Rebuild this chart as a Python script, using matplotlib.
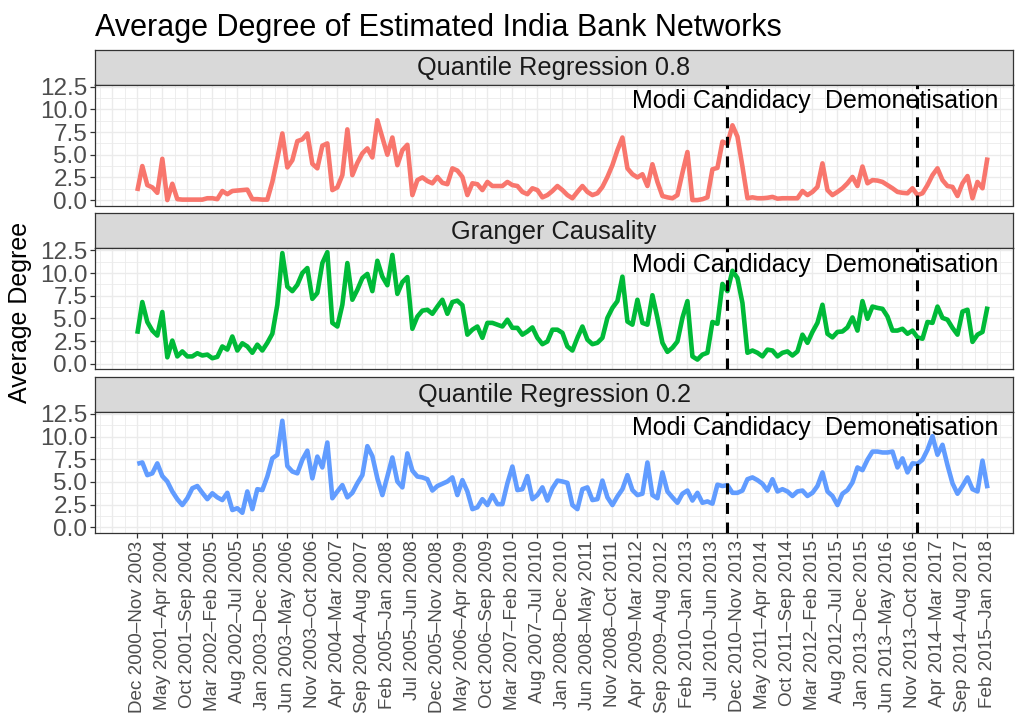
import numpy as np
import matplotlib.pyplot as plt

plt.rcParams['font.family'] = ['Liberation Sans', 'DejaVu Sans']

# average degree per rolling 36-month window (Dec 2000-Nov 2003 ... Feb 2015-Jan 2018)
qr08 = [1.0, 3.75, 1.65, 1.4, 0.8, 4.55, 0.0, 1.8, 0.1, 0.05,
        0.05, 0.05, 0.05, 0.05, 0.2, 0.2, 0.1, 1.0, 0.65, 1.0,
        1.05, 1.1, 1.15, 0.1, 0.1, 0.05, 0.05, 2.0, 4.6, 7.35,
        3.6, 4.4, 6.5, 6.7, 7.35, 4.0, 3.5, 6.0, 6.25, 1.1,
        1.4, 2.75, 7.8, 2.75, 4.1, 5.15, 5.7, 4.7, 8.8, 6.9,
        5.0, 6.9, 3.85, 5.5, 6.1, 0.55, 2.2, 2.5, 2.1, 1.85,
        2.55, 1.9, 1.75, 3.5, 3.25, 2.55, 0.55, 1.85, 1.75, 1.1,
        2.0, 1.55, 1.55, 1.55, 2.0, 1.65, 1.55, 0.9, 0.65, 1.3,
        1.1, 0.3, 0.55, 1.0, 1.55, 1.1, 0.55, 0.2, 0.9, 1.55,
        0.9, 0.55, 0.75, 1.45, 2.55, 3.85, 5.5, 6.9, 3.5, 2.85,
        2.5, 2.85, 1.55, 3.95, 2.0, 0.45, 0.3, 0.2, 0.55, 3.0,
        5.3, 0.0, 0.0, 0.1, 0.3, 3.4, 3.55, 6.45, 6.2, 8.25,
        7.0, 3.7, 0.2, 0.3, 0.2, 0.2, 0.25, 0.35, 0.15, 0.2,
        0.2, 0.2, 0.2, 1.0, 0.55, 0.9, 1.45, 4.05, 1.1, 0.55,
        0.9, 1.3, 1.85, 2.55, 1.55, 3.7, 1.85, 2.2, 2.15, 2.0,
        1.65, 1.3, 0.9, 0.8, 0.75, 1.3, 0.55, 0.75, 1.65, 2.75,
        3.5, 2.2, 1.55, 1.45, 0.45, 1.85, 2.65, 0.2, 2.0, 1.3,
        4.7]

granger = [3.3, 6.8, 4.6, 3.65, 3.1, 5.7, 0.7, 2.55, 0.8, 1.35,
           0.8, 0.8, 1.15, 0.9, 1.0, 0.6, 0.75, 1.9, 1.55, 3.0,
           1.45, 2.25, 1.9, 1.2, 2.1, 1.45, 2.3, 3.3, 6.5, 12.2,
           8.5, 8.0, 8.7, 10.0, 10.55, 7.15, 7.8, 11.1, 12.3, 4.5,
           4.1, 6.5, 11.1, 7.05, 8.15, 9.45, 9.9, 8.0, 11.35, 9.6,
           8.65, 12.0, 7.7, 9.0, 9.55, 3.85, 5.2, 5.85, 5.95, 5.5,
           6.3, 7.05, 5.5, 6.8, 6.95, 6.45, 3.2, 3.75, 4.1, 2.85,
           4.5, 4.5, 4.3, 4.1, 4.85, 3.95, 3.95, 3.2, 3.55, 4.0,
           2.85, 2.15, 2.45, 3.75, 3.75, 3.4, 1.9, 1.45, 2.85, 4.1,
           2.65, 2.15, 2.3, 2.85, 5.05, 6.15, 6.9, 9.6, 4.65, 4.3,
           7.05, 4.5, 4.3, 7.55, 5.05, 2.3, 1.3, 1.75, 2.45, 5.05,
           6.9, 0.8, 0.45, 1.0, 1.2, 4.6, 4.4, 8.8, 8.0, 10.25,
           9.45, 6.7, 1.2, 1.45, 1.2, 0.8, 1.55, 1.45, 0.8, 1.2,
           1.35, 0.9, 1.35, 3.2, 2.3, 3.5, 4.5, 6.5, 3.3, 2.9,
           3.5, 3.55, 4.0, 5.1, 3.65, 6.9, 4.95, 6.3, 6.15, 6.05,
           5.2, 3.65, 3.65, 3.85, 3.3, 3.65, 2.9, 2.75, 4.6, 4.5,
           6.3, 5.05, 4.85, 3.95, 3.2, 5.75, 5.95, 2.4, 3.2, 3.5,
           6.3]

qr02 = [7.0, 7.15, 5.75, 5.95, 7.05, 5.65, 5.05, 3.95, 3.1, 2.45,
        3.2, 4.3, 4.55, 3.8, 3.1, 3.75, 3.3, 3.0, 3.8, 1.9,
        2.1, 1.6, 3.95, 2.0, 4.2, 4.1, 5.6, 7.6, 8.0, 11.75,
        6.75, 6.15, 5.95, 7.45, 8.45, 5.4, 7.8, 6.6, 9.35, 3.2,
        3.95, 4.65, 3.3, 3.8, 4.85, 5.75, 8.95, 7.85, 5.4, 3.55,
        5.6, 7.7, 5.05, 4.4, 8.15, 6.25, 5.6, 5.5, 5.3, 4.05,
        4.55, 4.8, 5.05, 5.5, 3.55, 5.2, 3.95, 2.0, 2.2, 3.1,
        2.45, 3.55, 2.55, 2.55, 4.85, 6.7, 4.1, 4.2, 5.65, 3.1,
        3.55, 4.4, 2.95, 4.3, 5.15, 5.05, 4.9, 2.45, 2.0, 4.2,
        4.4, 3.0, 3.1, 5.15, 3.3, 2.45, 3.4, 4.2, 5.75, 4.1,
        3.55, 3.7, 7.15, 3.55, 3.2, 6.05, 3.95, 3.3, 2.7, 3.7,
        4.05, 2.95, 3.8, 2.7, 2.85, 2.6, 4.7, 4.55, 4.65, 3.8,
        3.8, 4.05, 5.3, 5.5, 5.2, 4.8, 4.05, 5.3, 3.95, 4.2,
        3.95, 3.45, 3.95, 4.05, 3.45, 3.8, 4.55, 6.05, 3.95, 3.45,
        2.45, 3.7, 4.1, 4.95, 6.6, 6.3, 7.45, 8.35, 8.35, 8.25,
        8.25, 8.35, 6.6, 7.6, 6.05, 7.05, 7.0, 7.45, 8.55, 10.05,
        8.0, 9.1, 6.85, 4.85, 3.7, 4.55, 5.5, 4.2, 3.95, 7.35,
        4.3]

tick_labels = [
    'Dec 2000–Nov 2003', 'May 2001–Apr 2004', 'Oct 2001–Sep 2004', 'Mar 2002–Feb 2005',
    'Aug 2002–Jul 2005', 'Jan 2003–Dec 2005', 'Jun 2003–May 2006', 'Nov 2003–Oct 2006',
    'Apr 2004–Mar 2007', 'Sep 2004–Aug 2007', 'Feb 2005–Jan 2008', 'Jul 2005–Jun 2008',
    'Dec 2005–Nov 2008', 'May 2006–Apr 2009', 'Oct 2006–Sep 2009', 'Mar 2007–Feb 2010',
    'Aug 2007–Jul 2010', 'Jan 2008–Dec 2010', 'Jun 2008–May 2011', 'Nov 2008–Oct 2011',
    'Apr 2009–Mar 2012', 'Sep 2009–Aug 2012', 'Feb 2010–Jan 2013', 'Jul 2010–Jun 2013',
    'Dec 2010–Nov 2013', 'May 2011–Apr 2014', 'Oct 2011–Sep 2014', 'Mar 2012–Feb 2015',
    'Aug 2012–Jul 2015', 'Jan 2013–Dec 2015', 'Jun 2013–May 2016', 'Nov 2013–Oct 2016',
    'Apr 2014–Mar 2017', 'Sep 2014–Aug 2017', 'Feb 2015–Jan 2018']

panel_names = ['Quantile Regression 0.8', 'Granger Causality', 'Quantile Regression 0.2']
panel_data = [qr08, granger, qr02]
panel_colors = ['#F8766D', '#00BA38', '#619CFF']

event_names = ['Modi Candidacy', 'Demonetisation']
event_idx = [118, 156]

W, H = 1015, 713
fig = plt.figure(figsize=(W / 100, H / 100), dpi=100)


def box(x0, y0, x1, y1):
    # pixel box (top-left origin) -> figure fraction
    return [x0 / W, 1 - y1 / H, (x1 - x0) / W, (y1 - y0) / H]


left, right = 95, 1013
top = 49.5
strip_h, panel_h, gap = 35, 121, 7.6
x = np.arange(len(qr08))
grey20 = '#333333'
grey30 = '#4D4D4D'

for k in range(3):
    s0 = top + k * (strip_h + panel_h + gap)
    p0 = s0 + strip_h
    # strip
    sa = fig.add_axes(box(left, s0, right, p0))
    sa.set_facecolor('#D9D9D9')
    sa.set_xticks([])
    sa.set_yticks([])
    for sp in sa.spines.values():
        sp.set_color(grey20)
        sp.set_linewidth(0.9)
    sa.text(0.5, 0.47, panel_names[k], ha='center', va='center', fontsize=18.3,
            color='#1A1A1A', transform=sa.transAxes)

    ax = fig.add_axes(box(left, p0, right, p0 + panel_h))
    ax.set_xlim(-8.46, 175.1)
    ax.set_ylim(-0.6, 12.75)
    ax.set_yticks(np.arange(0, 12.6, 2.5))
    ax.set_yticks(np.arange(1.25, 12.6, 2.5), minor=True)
    ax.set_yticklabels(['0.0', '2.5', '5.0', '7.5', '10.0', '12.5'])
    ax.set_xticks(np.arange(0, 171, 5))
    ax.set_xticks(np.arange(-7.5, 176, 2.5), minor=True)
    ax.grid(which='major', color='#EBEBEB', lw=1.0)
    ax.grid(which='minor', color='#EBEBEB', lw=0.6)
    for xv in [-5, 175]:
        ax.axvline(xv, color='#EBEBEB', lw=1.0, zorder=0.5)
    ax.set_axisbelow(True)
    for sp in ax.spines.values():
        sp.set_color(grey20)
        sp.set_linewidth(0.9)
    ax.tick_params(which='minor', length=0)
    ax.tick_params(axis='y', which='major', length=3.5, width=0.9, color=grey20,
                   labelsize=17.5, labelcolor=grey30, pad=2)

    ax.plot(x, panel_data[k], color=panel_colors[k], lw=3.3,
            solid_joinstyle='round', solid_capstyle='butt', zorder=3)

    for name, xi in zip(event_names, event_idx):
        ax.axvline(xi, color='black', lw=2.2, ls=(0, (3.6, 2.8)), zorder=4)
        ax.text(xi - 1.2, 10.9, name, ha='center', va='center', fontsize=18,
                color='black', zorder=5)

    if k < 2:
        ax.tick_params(axis='x', which='major', length=0, labelbottom=False)
    else:
        ax.set_xticklabels(tick_labels, rotation=90)
        ax.tick_params(axis='x', which='major', length=3.5, width=0.9, color=grey20,
                       labelsize=13.6, labelcolor=grey30, pad=2)

fig.text(95 / W, 1 - 36 / H, 'Average Degree of Estimated India Bank Networks',
         fontsize=22, ha='left', va='baseline')
fig.text(20 / W, 1 - 312 / H, 'Average Degree', fontsize=18, rotation=90,
         ha='center', va='center')

fig.savefig('out.png', dpi=100)
